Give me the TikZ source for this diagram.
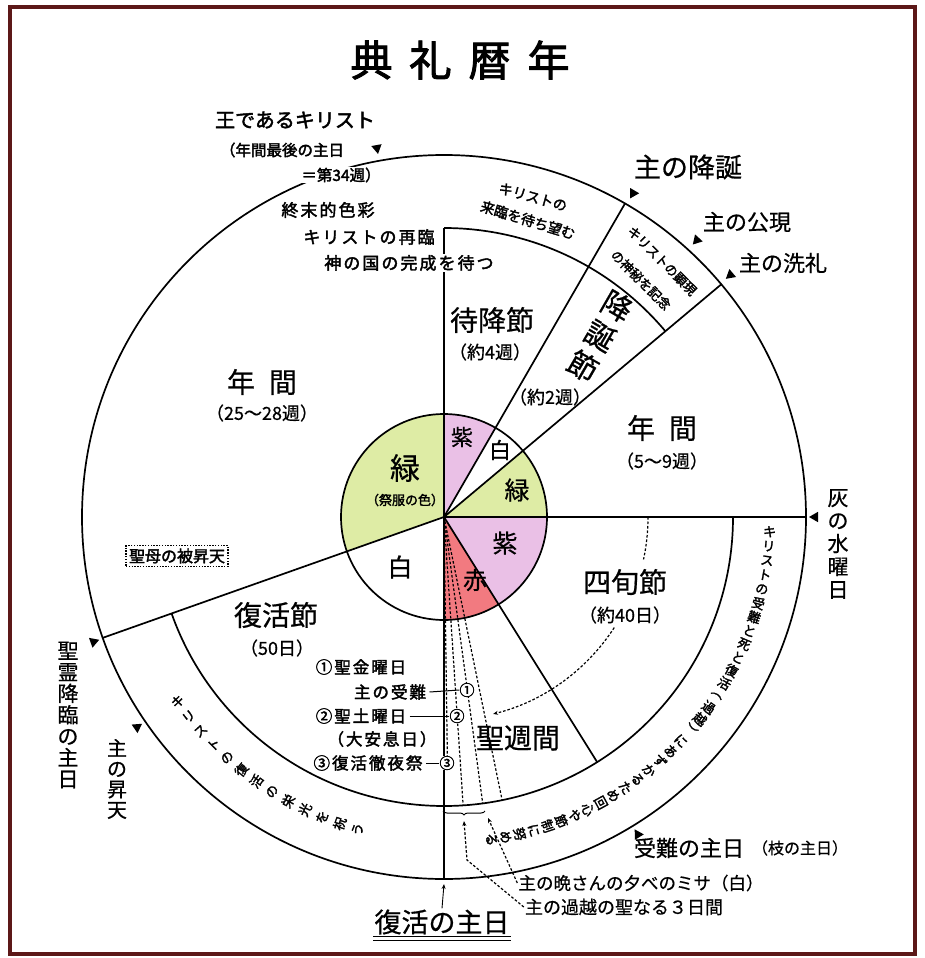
\documentclass[tikz,border=0pt]{standalone}
\usepackage{fontspec}
\setmainfont{Noto Sans CJK JP}[FakeBold=0.6]
\newfontfamily\jpb{Noto Sans CJK JP}[FakeBold=2.2]
\newfontfamily\jpbs{Noto Sans CJK JP}[FakeBold=2.2,LetterSpace=12]
\usetikzlibrary{shapes.geometric,arrows.meta,decorations.pathreplacing}
\definecolor{framec}{RGB}{92,24,24}
\definecolor{murasaki}{RGB}{234,192,230}
\definecolor{midori}{RGB}{222,236,165}
\definecolor{aka}{RGB}{242,122,128}
\newcommand\fsz[1]{\fontsize{#1}{#1}\selectfont}
\newcommand\bandtext[6]{%
  \foreach \ch [count=\i from 0] in {#6} {%
    \pgfmathsetmacro\ang{#2+\i*(#3)}%
    \pgfmathsetmacro\rot{\ang+(#5)}%
    \node[bandtxt, rotate=\rot] (#1\i) at (\ang:#4) {\ch};
  }%
}
\begin{document}
\begin{tikzpicture}[x=1pt,y=1pt,
  thick line/.style={line width=1.7pt},
  dsh/.style={line width=1.2pt, dash pattern=on 2.6pt off 1.9pt},
  tri/.style={isosceles triangle, isosceles triangle apex angle=60, fill=black, draw=none, inner sep=0pt, minimum size=9pt},
  bandtxt/.style={inner sep=0pt, font=\jpb\fsz{13}},
  wt/.style={fill=white, inner sep=1pt},
  num/.style={fill=white, inner sep=0pt, font=\jpb\fsz{15}},
  arr/.style={-{Stealth[length=5pt,width=4pt]}},
  lead/.style={line width=1pt},
]
\fill[white] (0,0) rectangle (925,-958);
\useasboundingbox (0,0) rectangle (925,-958);
\draw[framec, line width=4pt] (10,-7) rectangle (915,-954);

\node[font=\jpb\fsz{42}] (title) at (460,-60) {典\hspace{17pt}礼\hspace{17pt}暦\hspace{17pt}年};

\begin{scope}[shift={(444,-517)}]
\coordinate (O) at (0,0);
\fill[murasaki] (O) -- (90:103pt) arc[start angle=90,end angle=60,radius=103pt] -- cycle;
\fill[midori] (O) -- (40:103pt) arc[start angle=40,end angle=0,radius=103pt] -- cycle;
\fill[murasaki] (O) -- (0:103pt) arc[start angle=0,end angle=-58,radius=103pt] -- cycle;
\fill[aka] (O) -- (-58:103pt) arc[start angle=-58,end angle=-90,radius=103pt] -- cycle;
\fill[midori] (O) -- (90:103pt) arc[start angle=90,end angle=199.5,radius=103pt] -- cycle;
% holy week dashed lines
\draw[dsh] (O) -- (-89.2:246pt);
\foreach \a in {-86.2,-82.3,-78.4} \draw[dsh] (O) -- (\a:289pt);
% outer circle and band arcs
\draw[thick line] (O) circle[radius=362pt];
\draw[thick line] (90:289pt) arc[start angle=90,end angle=40,radius=289pt];
\draw[thick line] (0:289pt) arc[start angle=0,end angle=-90,radius=289pt];
\draw[thick line] (199.5:289pt) arc[start angle=199.5,end angle=270,radius=289pt];
% radial lines
\draw[thick line] (O) -- (90:289pt);
\draw[thick line] (O) -- (60:362pt);
\draw[thick line] (O) -- (40:362pt);
\draw[thick line] (O) -- (0:362pt);
\draw[thick line] (O) -- (-58:289pt);
\draw[thick line] (O) -- (-90:362pt);
\draw[thick line] (O) -- (199.5:362pt);
\draw[thick line] (O) circle[radius=103pt];
% lent dashed arc
\draw[dsh] (0:204pt) arc[start angle=0,end angle=-12,radius=204pt];
\draw[dsh,arr] (-33:203pt) arc[start angle=-33,end angle=-76,radius=203pt];
% triangles
\node[tri, rotate=280.3] (tKing) at (100.3:375pt) {};
\node[tri, rotate=239.7] (tNat) at (59.7:375pt) {};
\node[tri, rotate=227.6] (tEpi) at (47.6:375pt) {};
\node[tri, rotate=220.2] (tBap) at (40.2:375pt) {};
\node[tri, rotate=180] (tAsh) at (0:371pt) {};
\node[tri, rotate=121.4] (tPas) at (-58.6:372pt) {};
\node[tri, rotate=19.6] (tPen) at (199.6:372pt) {};
\node[tri, rotate=34.4] (tAsc) at (214.4:372pt) {};
% band texts
\bandtext{lent}{-2.6}{-2.55}{326pt}{0}{キ,リ,ス,ト,の,受,難,と,死,と,復,活,︵,過,越,︶,に,あ,ず,か,る,た,め,回,心,や,節,制,に,努,め,る}
\bandtext{east}{214.7}{3.32}{324pt}{-180}{キ,リ,ス,ト,の,復,活,の,栄,光,を,祝,う}
\end{scope}

% inner circle labels
\node[font=\fsz{22}] (c1) at (462,-437) {紫};
\node[font=\fsz{22}] (c2) at (500,-450) {白};
\node[font=\fsz{25}] (c3) at (517,-490) {緑};
\node[font=\fsz{25}] (c4) at (505,-543) {紫};
\node[font=\fsz{24}] (c5) at (475,-580) {赤};
\node[font=\fsz{25}] (c6) at (400,-567) {白};
\node[font=\fsz{30}] (c7) at (405,-468) {緑};
\node[font=\jpb\fsz{13}] (c8) at (405,-500) {（祭服の色）};

% top left
\node[font=\jpb\fsz{20}] (king) at (295,-120) {王であるキリスト};
\node[wt, font=\jpb\fsz{15.5}] (king2) at (282,-150) {（年間最後の主日};
\node[wt, font=\jpb\fsz{15.5}] (king3) at (341,-175) {＝第34週）};
\node[font=\jpbs\fsz{17}] (shumatsu) at (328,-210) {終末的色彩};
\node[font=\jpbs\fsz{17}] (sairin) at (369,-237) {キリストの再臨};
\node[wt, font=\jpbs\fsz{17}] (kami) at (409,-263) {神の国の完成を待つ};

% advent / christmas
\node[font=\jpb\fsz{14}, rotate=-15.5] (adv1) at (533,-197) {キリストの};
\node[font=\jpb\fsz{14}, rotate=-17] (adv2) at (528,-220) {来臨を待ち望む};
\node[font=\jpb\fsz{13}, rotate=-45, inner sep=0pt] (nat1) at (662,-261) {キリストの顕現};
\node[font=\jpb\fsz{13}, rotate=-45, inner sep=0pt] (nat2) at (641,-280) {の神秘を記念};
\node[font=\fsz{28}] (taikou) at (492,-320) {待降節};
\node[font=\fsz{18}] (taikouw) at (490,-352) {（約4週）};
\node[font=\fsz{30}, rotate=-30] (ko1) at (617,-306) {降};
\node[font=\fsz{30}, rotate=-30] (ko2) at (600,-336) {誕};
\node[font=\fsz{30}, rotate=-30] (ko3) at (583,-366) {節};
\node[font=\fsz{18}] (kow) at (550,-397) {（約2週）};

% top right labels
\node[font=\fsz{27}] (natal) at (688,-167) {主の降誕};
\node[font=\fsz{22}] (epiph) at (747,-222) {主の公現};
\node[font=\fsz{22}] (bapt) at (783,-263) {主の洗礼};

% ordinary time
\node[font=\fsz{28}] (nenR) at (662,-428) {年\hspace{14pt}間};
\node[font=\fsz{18}] (nenRw) at (662,-461) {（5～9週）};
\node[font=\fsz{28}] (nenL) at (262,-382) {年\hspace{14pt}間};
\node[font=\fsz{18}] (nenLw) at (262,-413) {（25～28週）};

% right side
\node[font=\fontsize{21}{23}\selectfont, align=center, inner sep=0pt] (ash) at (838,-544) {灰\\の\\水\\曜\\日};
\node[font=\fsz{28}] (shijun) at (625,-582) {四旬節};
\node[font=\fsz{18}] (shijunw) at (625,-615) {（約40日）};

% left side
\node[draw, line width=1.4pt, dash pattern=on 1.4pt off 1.4pt, inner sep=3pt, font=\jpb\fsz{16}] (assump) at (177,-556) {聖母の被昇天};
\node[font=\fontsize{21}{21.4}\selectfont, align=center, inner sep=0pt] (pente) at (68,-715) {聖\\霊\\降\\臨\\の\\主\\日};
\node[font=\fontsize{20}{20.5}\selectfont, align=center, inner sep=0pt] (ascen) at (117,-779) {主\\の\\昇\\天};
\node[font=\fsz{28}] (fukkatsusetsu) at (276,-615) {復活節};
\node[font=\fsz{18}] (fukkatsuw) at (277,-648) {（50日）};

% holy week labels
\node[font=\jpbs\fsz{16.5}] (kinyo) at (361,-667) {①聖金曜日};
\node[font=\jpbs\fsz{16.5}] (junan) at (390,-692) {主の受難};
\node[num] (n1) at (467,-690) {①};
\draw[lead] (junan.east) -- (n1.west);
\node[font=\jpbs\fsz{16.5}] (doyo) at (361,-716) {②聖土曜日};
\node[num] (n2) at (457,-716) {②};
\draw[lead] (doyo.east) -- (n2.west);
\node[font=\jpbs\fsz{16.5}] (ansoku) at (382,-739) {（大安息日）};
\node[font=\jpbs\fsz{16.5}] (vigil) at (368,-763) {③復活徹夜祭};
\node[num] (n3) at (447,-763) {③};
\draw[lead] (vigil.east) -- (n3.west);
\node[font=\fsz{28}] (seishukan) at (518,-738) {聖週間};

% brace and triduum arrows
\coordinate (brL) at (443,-811);
\coordinate (brR) at (485,-811);
\draw[line width=1pt, decorate, decoration={brace, amplitude=4pt, mirror}] (brL) -- (brR);
\coordinate (brTip) at (464,-821);
\coordinate (bend) at (467,-860);
\coordinate (banTip) at (488,-818);
\node[font=\fsz{17.5}, inner sep=1pt] (bansan) at (641,-883) {主の晩さんの夕べのミサ（白）};
\node[font=\fsz{18}, inner sep=1pt] (sanjitsu) at (624,-907) {主の過越の聖なる３日間};
\draw[dsh, arr] (sanjitsu.west) -- (bend) -- (brTip);
\draw[dsh, arr] (bansan.west) -- (banTip);

% bottom labels
\node[font=\fsz{22}] (passion) at (689,-848) {受難の主日};
\node[font=\fsz{16}] (palm) at (800,-848) {（枝の主日）};
\node[font=\fsz{27}, inner sep=1pt] (shujitsu) at (442,-922) {復活の主日};
\coordinate (eBottom) at (444,-884);
\draw[arr, line width=0.9pt] (shujitsu.north) -- (eBottom);
\draw[line width=0.9pt] ([yshift=-1pt]shujitsu.south west) -- ([yshift=-1pt]shujitsu.south east);
\draw[line width=0.9pt] ([yshift=-4.5pt]shujitsu.south west) -- ([yshift=-4.5pt]shujitsu.south east);
\end{tikzpicture}
\end{document}
